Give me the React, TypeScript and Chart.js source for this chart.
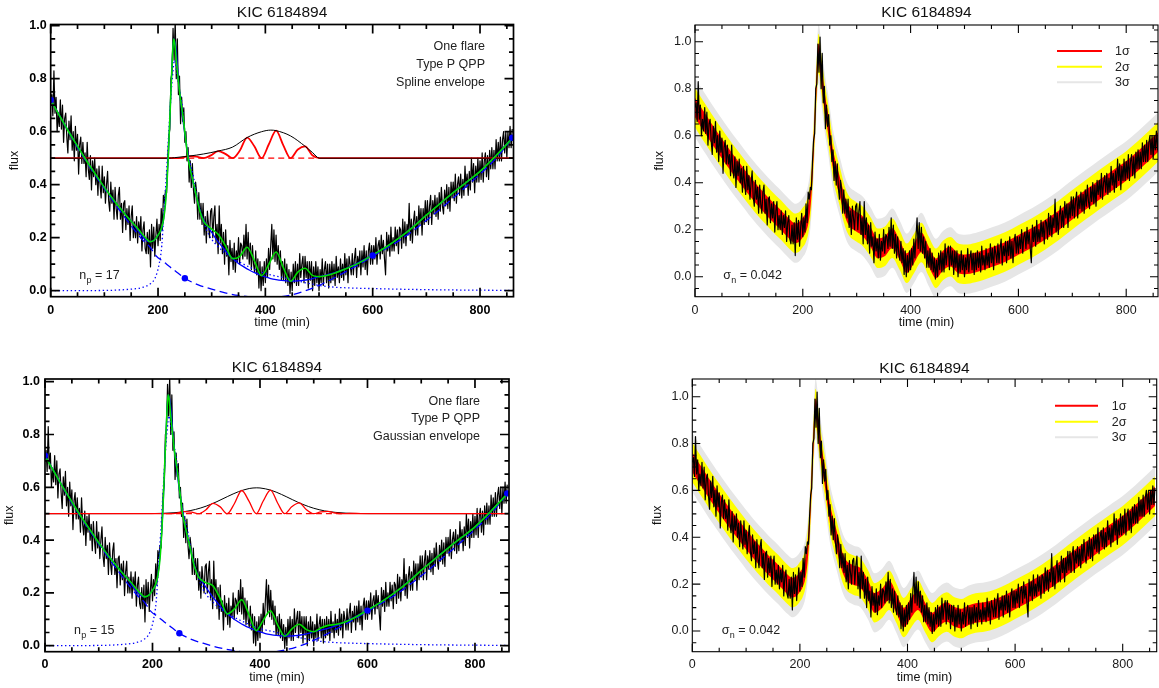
import React, { useEffect, useRef } from "react";
import { Chart, registerables } from "chart.js";

Chart.register(...registerables);

const FONT = '"Liberation Sans", Arial, Helvetica, sans-serif';
const TITLE = "KIC 6184894";
const SIGMA_N = 0.042;

// Light curve, one sample every 2 minutes starting at t = 0
const CADENCE_MIN = 2;
const flux = [
  0.72, 0.74, 0.66, 0.83, 0.67, 0.73, 0.60, 0.67, 0.62, 0.72,
  0.61, 0.70, 0.56, 0.65, 0.67, 0.58, 0.52, 0.64, 0.57, 0.66,
  0.53, 0.60, 0.49, 0.62, 0.53, 0.59, 0.44, 0.55, 0.58, 0.48,
  0.56, 0.48, 0.52, 0.43, 0.56, 0.46, 0.42, 0.51, 0.38, 0.49,
  0.43, 0.50, 0.40, 0.46, 0.36, 0.47, 0.40, 0.35, 0.47, 0.37,
  0.43, 0.33, 0.40, 0.45, 0.34, 0.30, 0.41, 0.33, 0.38, 0.27,
  0.39, 0.31, 0.27, 0.36, 0.39, 0.27, 0.33, 0.22, 0.33, 0.34,
  0.23, 0.31, 0.25, 0.32, 0.19, 0.28, 0.32, 0.20, 0.26, 0.20,
  0.28, 0.18, 0.26, 0.21, 0.28, 0.15, 0.23, 0.26, 0.16, 0.14,
  0.22, 0.14, 0.23, 0.09, 0.25, 0.16, 0.24, 0.13, 0.21, 0.27,
  0.17, 0.25, 0.19, 0.31, 0.23, 0.36, 0.33, 0.38, 0.37, 0.49,
  0.58, 0.61, 0.80, 0.82, 0.99, 0.87, 1.02, 0.80, 0.95, 0.74,
  0.81, 0.63, 0.73, 0.64, 0.69, 0.56, 0.60, 0.49, 0.54, 0.41,
  0.49, 0.39, 0.48, 0.38, 0.33, 0.41, 0.37, 0.27, 0.37, 0.27,
  0.33, 0.25, 0.33, 0.21, 0.28, 0.18, 0.30, 0.25, 0.20, 0.30,
  0.31, 0.20, 0.28, 0.32, 0.18, 0.25, 0.14, 0.32, 0.18, 0.25,
  0.14, 0.22, 0.10, 0.23, 0.13, 0.17, 0.06, 0.19, 0.11, 0.16,
  0.08, 0.18, 0.07, 0.15, 0.11, 0.20, 0.10, 0.18, 0.17, 0.12,
  0.21, 0.13, 0.25, 0.12, 0.22, 0.10, 0.18, 0.08, 0.17, 0.10,
  0.07, 0.15, 0.06, 0.12, 0.01, 0.11, 0.00, 0.09, 0.02, 0.11,
  0.03, 0.12, 0.05, 0.16, 0.08, 0.17, 0.25, 0.12, 0.23, 0.11,
  0.21, 0.10, 0.17, 0.08, 0.15, 0.04, 0.11, 0.04, 0.12, 0.03,
  0.10, 0.02, 0.08, -0.01, 0.07, 0.00, 0.10, 0.03, 0.11, 0.02,
  0.10, 0.02, 0.14, 0.05, 0.10, 0.13, 0.03, 0.13, 0.05, 0.11,
  0.01, 0.11, 0.04, 0.11, 0.00, 0.09, 0.02, 0.11, 0.03, 0.09,
  0.00, 0.08, 0.03, 0.12, 0.02, 0.08, 0.11, 0.03, 0.10, 0.01,
  0.10, 0.03, 0.11, 0.04, 0.10, 0.02, 0.13, 0.05, 0.09, 0.03,
  0.12, 0.05, 0.10, 0.04, 0.14, 0.06, 0.12, 0.03, 0.13, 0.10,
  0.06, 0.14, 0.06, 0.12, 0.16, 0.05, 0.13, 0.09, 0.15, 0.06,
  0.15, 0.09, 0.17, 0.08, 0.15, 0.06, 0.15, 0.18, 0.10, 0.17,
  0.10, 0.17, 0.12, 0.20, 0.10, 0.17, 0.19, 0.12, 0.21, 0.14,
  0.19, 0.12, 0.06, 0.22, 0.15, 0.21, 0.13, 0.24, 0.15, 0.20,
  0.15, 0.24, 0.17, 0.23, 0.14, 0.24, 0.23, 0.16, 0.27, 0.18,
  0.26, 0.17, 0.25, 0.21, 0.33, 0.19, 0.27, 0.18, 0.26, 0.30,
  0.21, 0.28, 0.21, 0.32, 0.25, 0.31, 0.21, 0.31, 0.25, 0.34,
  0.26, 0.34, 0.25, 0.32, 0.36, 0.25, 0.34, 0.29, 0.36, 0.28,
  0.35, 0.27, 0.37, 0.30, 0.39, 0.32, 0.29, 0.38, 0.32, 0.40,
  0.31, 0.39, 0.30, 0.41, 0.35, 0.41, 0.34, 0.44, 0.33, 0.40,
  0.43, 0.36, 0.44, 0.35, 0.42, 0.36, 0.47, 0.39, 0.44, 0.36,
  0.45, 0.38, 0.50, 0.41, 0.48, 0.37, 0.47, 0.41, 0.50, 0.41,
  0.49, 0.42, 0.52, 0.41, 0.49, 0.52, 0.43, 0.51, 0.42, 0.53,
  0.46, 0.54, 0.46, 0.53, 0.46, 0.57, 0.49, 0.56, 0.49, 0.58,
  0.49, 0.57, 0.60, 0.52, 0.60, 0.50, 0.60, 0.54, 0.62, 0.54,
  0.61,
];

// Full model (flare + background + QPP): decay, flare rise and peak
const fitHeadTime = [
  0, 10, 20, 30, 40, 50, 60, 70, 80, 90, 100, 110, 120, 130, 140, 150, 160, 170,
  178, 185, 190, 195, 200, 205, 210, 214, 217, 219, 221, 223, 225, 227, 229, 231,
  234, 238, 242, 247, 251, 256, 262, 269, 278,
];
const fitHead = [
  0.72, 0.683, 0.648, 0.612, 0.578, 0.545, 0.512, 0.48, 0.45, 0.42, 0.39, 0.362,
  0.335, 0.31, 0.285, 0.262, 0.24, 0.215,
  0.197, 0.185, 0.187, 0.195, 0.21, 0.228, 0.265, 0.33, 0.42, 0.5, 0.6, 0.7, 0.8,
  0.89, 0.95, 0.935, 0.87, 0.79, 0.72, 0.65, 0.58, 0.5, 0.44, 0.38, 0.3,
];
// QPP section of the model, spline envelope
const splineFitTime = [
  285, 298.5, 312, 325.5, 339, 352.5, 366, 379.5, 393, 406.5, 420, 433.5, 447,
  460.5, 474, 487.5, 501, 520, 550,
];
const splineFit = [
  0.262, 0.235, 0.213, 0.17, 0.121, 0.13, 0.164, 0.114, 0.057, 0.1, 0.146, 0.087,
  0.036, 0.07, 0.085, 0.058, 0.053, 0.06, 0.083,
];
// QPP section of the model, Gaussian envelope
const gaussFitTime = [
  286, 299, 312.5, 326, 339, 352.5, 366, 379.5, 393, 406, 419.5, 433, 446, 459.5,
  473, 486.5, 500, 513, 526.5, 540, 553,
];
const gaussFit = [
  0.26, 0.239, 0.227, 0.178, 0.12, 0.139, 0.174, 0.118, 0.057, 0.096, 0.132, 0.078,
  0.036, 0.064, 0.081, 0.061, 0.053, 0.067, 0.077, 0.08, 0.086,
];
// Late rise of the model
const fitTailTime = [575, 600, 625, 650, 675, 700, 725, 750, 775, 800, 830, 860];
const fitTail = [0.105, 0.135, 0.165, 0.2, 0.24, 0.285, 0.328, 0.37, 0.41, 0.45, 0.51, 0.575];

// Flare + background, without QPP
const trendTime = [
  0, 50, 100, 150, 185, 200, 210, 219, 225, 229, 233, 240, 250, 260, 270, 280, 290,
  300, 310, 320, 330, 340, 350, 360, 370, 380, 390, 400, 410, 420, 430, 440, 450,
  460, 470, 480, 490, 500, 525, 550, 600, 650, 700, 750, 800, 860,
];
const trend = [
  0.72, 0.545, 0.39, 0.262, 0.185, 0.21, 0.265, 0.5, 0.8, 0.95, 0.92, 0.755, 0.59,
  0.46, 0.37, 0.29, 0.25, 0.22, 0.19, 0.165, 0.14, 0.12, 0.103, 0.09, 0.078, 0.068,
  0.06, 0.052, 0.046, 0.042, 0.039, 0.037, 0.036, 0.037, 0.039, 0.042, 0.047,
  0.053, 0.065, 0.083, 0.135, 0.2, 0.285, 0.37, 0.45, 0.575,
];

// Flare profile alone
const flareTime = [
  0, 100, 150, 170, 185, 195, 202, 207, 211, 215, 219, 223, 227, 231, 235, 240,
  245, 250, 255, 260, 266, 272, 278, 285, 295, 310, 330, 350, 375, 400, 425, 450,
  475, 500, 525, 550, 600, 700, 862,
];
const flareProfile = [
  0, 0.001, 0.006, 0.012, 0.025, 0.05, 0.1, 0.17, 0.3, 0.42, 0.56, 0.7, 0.81, 0.87,
  0.82, 0.76, 0.7, 0.6, 0.53, 0.48, 0.43, 0.36, 0.31, 0.26, 0.21, 0.17, 0.135,
  0.11, 0.085, 0.065, 0.053, 0.042, 0.03, 0.02, 0.014, 0.011, 0.008, 0.004, 0.001,
];

// Spline background alone
const backgroundTime = [
  0, 50, 100, 150, 172, 185, 197, 210, 222, 235, 250, 275, 300, 325, 350, 375, 400,
  425, 450, 475, 500, 525, 550, 575, 600, 650, 700, 750, 800, 830, 862,
];
const background = [
  0.72, 0.54, 0.385, 0.245, 0.19, 0.165, 0.13, 0.11, 0.09, 0.07, 0.047, 0.022,
  0.006, -0.008, -0.018, -0.024, -0.026, -0.024, -0.015, 0, 0.02, 0.045, 0.072,
  0.1, 0.13, 0.19, 0.265, 0.35, 0.44, 0.5, 0.58,
];

// Background spline knots
const knotTime = [0, 250, 600, 860];
const knotFlux = [0.72, 0.047, 0.133, 0.577];

// QPP signal, offset to 0.5, and its envelope
const splineQppTime = [
  0, 219, 231, 244.5, 258, 271.5, 285, 298.5, 312, 325.5, 339, 352.5, 366, 379.5,
  393, 406.5, 420, 433.5, 447, 460.5, 474, 487.5, 501, 862,
];
const splineQpp = [
  0.5, 0.5, 0.5, 0.502, 0.508, 0.506, 0.5, 0.5105, 0.527, 0.5165, 0.5, 0.529, 0.578,
  0.545, 0.5, 0.5525, 0.604, 0.5485, 0.5, 0.533, 0.545, 0.511, 0.5, 0.5,
];
const splineEnvTime = [0, 219, 231, 258, 285, 312, 339, 366, 393, 410, 420, 447, 474, 487.5, 501, 862];
const splineEnv = [
  0.5, 0.5, 0.502, 0.508, 0.516, 0.527, 0.542, 0.578, 0.6, 0.606, 0.604, 0.584,
  0.545, 0.522, 0.5, 0.5,
];
const gaussQppTime = [
  0, 232, 245.5, 259, 272.5, 286, 299, 312.5, 326, 339, 352.5, 366, 379.5, 393, 406,
  419.5, 433, 446, 459.5, 473, 486.5, 500, 513, 526.5, 540, 553, 566.5, 580, 593,
  607, 862,
];
const gaussQpp = [
  0.5, 0.5, 0.5023, 0.5078, 0.5063, 0.5, 0.514, 0.539, 0.5258, 0.5, 0.5386, 0.5879,
  0.5476, 0.5, 0.548, 0.5895, 0.5397, 0.5, 0.527, 0.5412, 0.515, 0.5, 0.5069,
  0.5086, 0.5026, 0.5, 0.5008, 0.5008, 0.5003, 0.5, 0.5,
];
const gaussEnvTime = [
  0, 200, 220, 240, 260, 280, 300, 320, 340, 360, 380, 394, 400, 420, 440, 460, 480,
  500, 520, 540, 560, 580, 600, 862,
];
const gaussEnv = [
  0.5, 0.5005, 0.5015, 0.5036, 0.5081, 0.5161, 0.5287, 0.5458, 0.5654, 0.5834,
  0.5954, 0.598, 0.5975, 0.5892, 0.573, 0.5535, 0.5351, 0.5206, 0.5108, 0.5051,
  0.5021, 0.5008, 0.5003, 0.5,
];
const QPP_LEVEL = 0.5;
const splineZeroTime = [219, 501];
const gaussZeroTime = [225, 560];

const X_MAJOR = [0, 200, 400, 600, 800];
const X_MINOR = [50, 100, 150, 250, 300, 350, 450, 500, 550, 650, 700, 750, 850];
const Y_MAJOR = [0, 0.2, 0.4, 0.6, 0.8, 1.0];
const Y_MINOR = [-0.05, 0.05, 0.1, 0.15, 0.25, 0.3, 0.35, 0.45, 0.5, 0.55, 0.65, 0.7, 0.75, 0.85, 0.9, 0.95, 1.05];

const BAND_LEVELS = [1, 2, 3];
const BAND_COLORS = ["#ff0000", "#ffff00", "#e6e6e6"];
const BAND_LABELS = ["1σ", "2σ", "3σ"];

type Pt = { x: number; y: number };
const pts = (ts: number[], vs: number[]): Pt[] => ts.map((x, i) => ({ x, y: vs[i] }));

const dataPoints = pts(flux.map((_, i) => i * CADENCE_MIN), flux);
const modelFor = (env: "spline" | "gauss") => {
  const midT = env === "spline" ? splineFitTime : gaussFitTime;
  const midV = env === "spline" ? splineFit : gaussFit;
  return pts([...fitHeadTime, ...midT, ...fitTailTime], [...fitHead, ...midV, ...fitTail]);
};

type PanelSpec = {
  left: number;
  top: number;
  width: number;
  height: number;
  area: [number, number, number, number];
  xMax: number;
  yMin: number;
  yMax: number;
  kind: "fit" | "bands";
  envelope: "spline" | "gauss";
  bold: boolean;
  padX: number;
  padY: number;
  titleY: number;
  xLabelY: number;
  yLabelX: number;
  frameWidth: number;
  notes?: { right: number; ys: number[]; lines: string[] };
  count?: { x: number; y: number; n: number };
  sigma?: { x: number; y: number };
  legend?: { x0: number; x1: number; ys: number[]; textX: number };
};

const PANELS: PanelSpec[] = [
  {
    left: 0, top: 0, width: 580, height: 344,
    area: [50.7, 24.5, 513.5, 296.7], xMax: 862.4, yMin: -0.0226, yMax: 1.0045,
    kind: "fit", envelope: "spline", bold: true, padX: 6, padY: 4,
    titleY: 13, xLabelY: 322.7, yLabelX: 15, frameWidth: 1.7,
    notes: { right: 485, ys: [46.7, 64.3, 82.7], lines: ["One flare", "Type P QPP", "Spline envelope"] },
    count: { x: 79.3, y: 276, n: 17 },
  },
  {
    left: 580, top: 0, width: 579, height: 344,
    area: [115, 25, 578, 296.7], xMax: 859, yMin: -0.085, yMax: 1.071,
    kind: "bands", envelope: "spline", bold: false, padX: 6, padY: 3.5,
    titleY: 13, xLabelY: 322.5, yLabelX: 80, frameWidth: 1.1,
    sigma: { x: 143.3, y: 276 },
    legend: { x0: 477, x1: 522, ys: [51, 66.7, 82.3], textX: 535 },
  },
  {
    left: 0, top: 344, width: 580, height: 344,
    area: [45, 35, 509, 307.7], xMax: 863.3, yMin: -0.0227, yMax: 1.0102,
    kind: "fit", envelope: "gauss", bold: true, padX: 5, padY: 5,
    titleY: 23.7, xLabelY: 333.7, yLabelX: 10, frameWidth: 1.7,
    notes: { right: 480, ys: [57.7, 74.3, 92.7], lines: ["One flare", "Type P QPP", "Gaussian envelope"] },
    count: { x: 74, y: 287, n: 15 },
  },
  {
    left: 580, top: 344, width: 579, height: 344,
    area: [112.3, 35, 576.7, 307.7], xMax: 863.2, yMin: -0.0883, yMax: 1.0755,
    kind: "bands", envelope: "gauss", bold: false, padX: 5, padY: 3.5,
    titleY: 24.3, xLabelY: 333.7, yLabelX: 77.3, frameWidth: 1.1,
    sigma: { x: 141.7, y: 287 },
    legend: { x0: 475, x1: 518, ys: [61.7, 77.7, 93.3], textX: 531.7 },
  },
];

const smooth = { pointRadius: 0, fill: false, cubicInterpolationMode: "monotone" as const };

function fitDatasets(env: "spline" | "gauss") {
  const qpp = env === "spline" ? pts(splineQppTime, splineQpp) : pts(gaussQppTime, gaussQpp);
  const envelope = env === "spline" ? pts(splineEnvTime, splineEnv) : pts(gaussEnvTime, gaussEnv);
  const zeroT = env === "spline" ? splineZeroTime : gaussZeroTime;
  const qppSet = { ...smooth, data: qpp, borderColor: "#ff0000", borderWidth: env === "spline" ? 1.8 : 1.3 };
  const envSet = { ...smooth, data: envelope, borderColor: "#000000", borderWidth: 1 };
  return [
    {
      data: pts(knotTime, knotFlux), showLine: false, pointRadius: 3.2,
      pointBackgroundColor: "#0000ff", pointBorderColor: "#0000ff", pointBorderWidth: 0,
    },
    { ...smooth, data: modelFor(env), borderColor: "#00dd00", borderWidth: 1.6 },
    { ...smooth, data: pts(trendTime, trend), borderColor: "#0000ff", borderWidth: 1.3 },
    { ...smooth, data: pts(backgroundTime, background), borderColor: "#0000ff", borderWidth: 1.3, borderDash: [8, 4.5] },
    { ...smooth, data: pts(flareTime, flareProfile), borderColor: "#0000ff", borderWidth: 1.3, borderDash: [1.4, 2.6] },
    ...(env === "spline" ? [envSet, qppSet] : [qppSet, envSet]),
    {
      ...smooth, data: zeroT.map((x) => ({ x, y: QPP_LEVEL })),
      borderColor: "#ff0000", borderWidth: 1.3, borderDash: [6, 4],
    },
    {
      data: dataPoints, pointRadius: 0, fill: false, tension: 0,
      borderColor: "#000000", borderWidth: 1.2, borderJoinStyle: "round" as const,
    },
  ];
}

function bandDatasets(env: "spline" | "gauss") {
  const model = modelFor(env);
  const sets: any[] = [
    {
      data: dataPoints, pointRadius: 0, fill: false, tension: 0,
      borderColor: "#000000", borderWidth: 1.2, borderJoinStyle: "round",
    },
  ];
  BAND_LEVELS.forEach((k, i) => {
    const off = k * SIGMA_N;
    sets.push({
      ...smooth, data: model.map((p) => ({ x: p.x, y: p.y + off })),
      borderWidth: 0, borderColor: "rgba(0,0,0,0)", backgroundColor: BAND_COLORS[i], fill: "+1",
    });
    sets.push({
      ...smooth, data: model.map((p) => ({ x: p.x, y: p.y - off })),
      borderWidth: 0, borderColor: "rgba(0,0,0,0)",
    });
  });
  return sets;
}

function subscriptText(
  ctx: CanvasRenderingContext2D, x: number, y: number,
  main: string, sub: string, rest: string, size: number,
) {
  ctx.textAlign = "left";
  ctx.textBaseline = "middle";
  ctx.font = `${size}px ${FONT}`;
  ctx.fillText(main, x, y);
  let cx = x + ctx.measureText(main).width + 0.3;
  ctx.font = `${size * 0.72}px ${FONT}`;
  ctx.fillText(sub, cx, y + size * 0.36);
  cx += ctx.measureText(sub).width;
  ctx.font = `${size}px ${FONT}`;
  ctx.fillText(rest, cx, y);
}

function buildConfig(s: PanelSpec) {
  const [aL, aT, aR, aB] = s.area;
  const tickFont = { family: FONT, size: 12.5, weight: s.bold ? ("bold" as const) : ("normal" as const) };
  const tickColor = s.bold ? "#000" : "#1a1a1a";
  const majorLen = s.bold ? 9 : 8;
  const minorLen = s.bold ? 4.5 : 4;

  const framePlugin = {
    id: "frame",
    afterDatasetsDraw(chart: any) {
      const { ctx, chartArea: a } = chart;
      const xs = chart.scales.x;
      const ys = chart.scales.y;
      ctx.save();
      ctx.strokeStyle = "#000";
      ctx.lineWidth = s.frameWidth;
      ctx.beginPath();
      const xt = (v: number, len: number) => {
        if (v < xs.min || v > xs.max) return;
        const px = xs.getPixelForValue(v);
        ctx.moveTo(px, a.bottom);
        ctx.lineTo(px, a.bottom - len);
        ctx.moveTo(px, a.top);
        ctx.lineTo(px, a.top + len);
      };
      const yt = (v: number, len: number) => {
        if (v < ys.min || v > ys.max) return;
        const py = ys.getPixelForValue(v);
        ctx.moveTo(a.left, py);
        ctx.lineTo(a.left + len, py);
        ctx.moveTo(a.right, py);
        ctx.lineTo(a.right - len, py);
      };
      X_MAJOR.forEach((v) => xt(v, majorLen));
      X_MINOR.forEach((v) => xt(v, minorLen));
      Y_MAJOR.forEach((v) => yt(v, majorLen));
      Y_MINOR.forEach((v) => yt(v, minorLen));
      ctx.stroke();
      ctx.strokeRect(a.left, a.top, a.right - a.left, a.bottom - a.top);
      ctx.restore();
    },
  };

  const annotatePlugin = {
    id: "annotate",
    afterDraw(chart: any) {
      const { ctx, chartArea: a } = chart;
      const cx = (a.left + a.right) / 2;
      const cy = (a.top + a.bottom) / 2;
      ctx.save();
      ctx.fillStyle = "#111";
      ctx.textAlign = "center";
      ctx.textBaseline = "middle";
      ctx.font = `15.5px ${FONT}`;
      ctx.fillText(TITLE, cx, s.titleY);
      ctx.font = `12.5px ${FONT}`;
      ctx.fillText("time (min)", cx, s.xLabelY);
      ctx.save();
      ctx.translate(s.yLabelX, cy);
      ctx.rotate(-Math.PI / 2);
      ctx.fillText("flux", 0, 0);
      ctx.restore();

      ctx.fillStyle = "#222";
      if (s.notes) {
        ctx.textAlign = "right";
        ctx.font = `12.5px ${FONT}`;
        s.notes.lines.forEach((line, i) => ctx.fillText(line, s.notes!.right, s.notes!.ys[i]));
      }
      if (s.count) subscriptText(ctx, s.count.x, s.count.y, "n", "p", ` = ${s.count.n}`, 12.5);
      if (s.sigma) subscriptText(ctx, s.sigma.x, s.sigma.y, "σ", "n", ` = ${SIGMA_N.toFixed(3)}`, 12.5);
      if (s.legend) {
        const lg = s.legend;
        BAND_LABELS.forEach((label, i) => {
          ctx.strokeStyle = BAND_COLORS[i];
          ctx.lineWidth = 2;
          ctx.beginPath();
          ctx.moveTo(lg.x0, lg.ys[i]);
          ctx.lineTo(lg.x1, lg.ys[i]);
          ctx.stroke();
          ctx.fillStyle = "#222";
          ctx.textAlign = "left";
          ctx.font = `12.5px ${FONT}`;
          ctx.fillText(label, lg.textX, lg.ys[i] + 0.5);
        });
      }
      ctx.restore();
    },
  };

  return {
    type: "line" as const,
    data: { datasets: (s.kind === "fit" ? fitDatasets(s.envelope) : bandDatasets(s.envelope)) as any[] },
    options: {
      responsive: false,
      animation: false as const,
      devicePixelRatio: 1,
      events: [],
      parsing: false as const,
      layout: { padding: { left: 0, top: aT, right: s.width - aR, bottom: 0 } },
      scales: {
        x: {
          type: "linear" as const,
          min: 0,
          max: s.xMax,
          grid: { display: false, drawTicks: false },
          border: { display: false },
          ticks: {
            font: tickFont, color: tickColor, padding: s.padX, maxRotation: 0, autoSkip: false,
            callback: (v: any) => String(Math.round(Number(v))),
          },
          afterBuildTicks: (ax: any) => { ax.ticks = X_MAJOR.map((value) => ({ value })); },
          afterFit: (ax: any) => { ax.height = s.height - aB; },
        },
        y: {
          type: "linear" as const,
          min: s.yMin,
          max: s.yMax,
          grid: { display: false, drawTicks: false },
          border: { display: false },
          ticks: {
            font: tickFont, color: tickColor, padding: s.padY, autoSkip: false,
            callback: (v: any) => Number(v).toFixed(1),
          },
          afterBuildTicks: (ax: any) => { ax.ticks = Y_MAJOR.map((value) => ({ value })); },
          afterFit: (ax: any) => { ax.width = aL; },
        },
      },
      plugins: {
        legend: { display: false },
        tooltip: { enabled: false },
        title: { display: false },
      },
    },
    plugins: [framePlugin, annotatePlugin],
  };
}

function Panel({ spec }: { spec: PanelSpec }) {
  const ref = useRef<HTMLCanvasElement>(null);
  useEffect(() => {
    const chart = new Chart(ref.current as HTMLCanvasElement, buildConfig(spec) as any);
    return () => chart.destroy();
  }, [spec]);
  return (
    <canvas
      ref={ref}
      width={spec.width}
      height={spec.height}
      style={{ position: "absolute", left: spec.left, top: spec.top, width: spec.width, height: spec.height }}
    />
  );
}

export default function App() {
  return (
    <div style={{ position: "fixed", left: 0, top: 0, width: 1159, height: 688, background: "#fff", overflow: "hidden" }}>
      {PANELS.map((p, i) => (
        <Panel key={i} spec={p} />
      ))}
    </div>
  );
}
